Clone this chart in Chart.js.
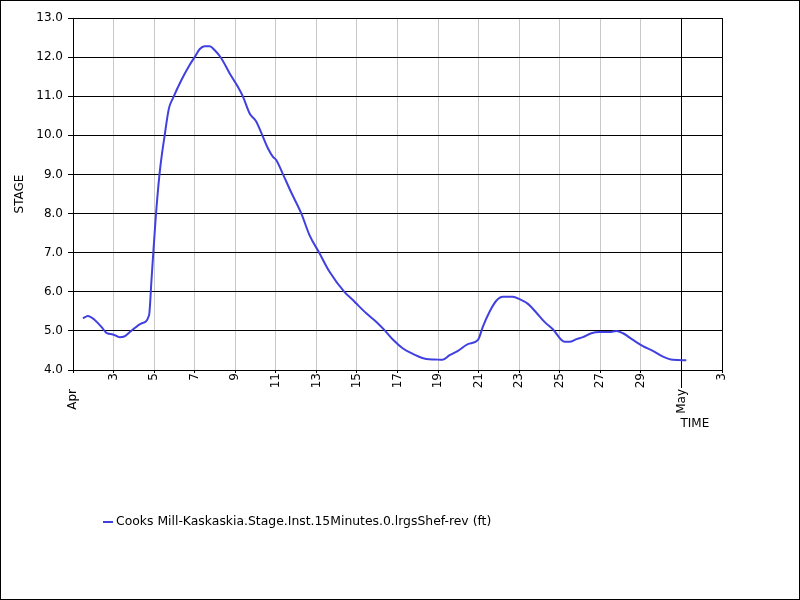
<!DOCTYPE html>
<html>
<head>
<meta charset="utf-8">
<script src="https://cdn.jsdelivr.net/npm/chart.js@4"></script>
<style>
  body { margin: 0; background: #fff; }
  canvas { display: block; }
</style>
</head>
<body>
<canvas id="stageChart" width="800" height="600"></canvas>
<script>
// days since Apr 1 00:00
const dayOffsets = [
  0.49, 0.73, 1.07, 1.39, 1.67, 1.97, 2.30, 2.49, 2.87, 3.37, 3.75, 3.87,
  4.07, 4.27, 4.52, 4.73, 4.93, 5.34, 5.75, 6.00, 6.24, 6.49, 6.74, 6.98,
  7.31, 7.72, 8.13, 8.38, 8.71, 9.04, 9.28, 9.61, 9.86, 10.02, 10.35, 10.75,
  11.26, 11.66, 12.16, 12.65, 13.39, 13.80, 13.97, 14.46, 14.96, 15.36, 15.77, 16.27,
  16.76, 17.42, 17.83, 18.21, 18.57, 18.98, 19.47, 19.97, 20.21, 20.54, 20.87, 21.20,
  21.69, 22.02, 22.43, 22.84, 23.25, 23.66, 24.24, 24.49, 24.82, 25.14, 25.56, 25.97,
  26.46, 26.79, 27.12, 27.61, 28.10, 28.59, 29.09, 29.58, 30.24
];
const stageFt = [
  5.32, 5.38, 5.28, 5.11, 4.94, 4.91, 4.84, 4.85, 5.00, 5.19, 5.40, 6.30,
  7.84, 9.03, 10.00, 10.69, 10.95, 11.41, 11.80, 12.00, 12.20, 12.28, 12.28, 12.18,
  11.97, 11.59, 11.24, 10.99, 10.56, 10.35, 10.07, 9.67, 9.45, 9.37, 9.01, 8.55,
  8.00, 7.45, 6.98, 6.51, 5.99, 5.79, 5.70, 5.45, 5.23, 5.02, 4.78, 4.55,
  4.41, 4.28, 4.27, 4.26, 4.38, 4.49, 4.66, 4.77, 5.11, 5.49, 5.77, 5.87,
  5.87, 5.81, 5.69, 5.47, 5.23, 5.04, 4.72, 4.72, 4.79, 4.84, 4.94, 4.97,
  4.97, 5.00, 4.94, 4.77, 4.61, 4.49, 4.34, 4.26, 4.25
];
const seriesName = "Cooks Mill-Kaskaskia.Stage.Inst.15Minutes.0.lrgsShef-rev (ft)";

// x ticks every 2 days, Apr 1 .. May 3
const dayTicks = [0, 2, 4, 6, 8, 10, 12, 14, 16, 18, 20, 22, 24, 26, 28, 30, 32];
const dayLabels = ["", "3", "5", "7", "9", "11", "13", "15", "17", "19", "21", "23", "25", "27", "29", "", "3"];
const monthTicks = [0, 30];
const monthLabels = ["Apr", "May"];
const yTicks = [4, 5, 6, 7, 8, 9, 10, 11, 12, 13];

const lineColor = "rgb(64,64,224)";
const fontFamily = "'DejaVu Sans', Verdana, sans-serif";

Chart.defaults.font.family = fontFamily;
Chart.defaults.font.size = 12;
Chart.defaults.color = "#000";

const points = dayOffsets.map((d, i) => ({ x: d, y: stageFt[i] }));

// рамка, TIME, легенда
const extrasPlugin = {
  id: "extras",
  afterDraw(chart) {
    const ctx = chart.ctx;
    ctx.save();
    ctx.strokeStyle = "#000";
    ctx.lineWidth = 1;
    ctx.strokeRect(0.5, 0.5, chart.width - 1, chart.height - 1);

    ctx.fillStyle = "#000";
    ctx.font = "12px " + fontFamily;
    ctx.textBaseline = "middle";
    ctx.textAlign = "left";
    const mayX = chart.scales.x.getPixelForValue(30);
    ctx.fillText("TIME", mayX - 1, 424);

    // legend
    ctx.strokeStyle = lineColor;
    ctx.lineWidth = 2;
    ctx.beginPath();
    ctx.moveTo(103, 522);
    ctx.lineTo(113, 522);
    ctx.stroke();
    ctx.font = "12.4px " + fontFamily;
    ctx.fillText(chart.data.datasets[0].label, 116, 522);
    ctx.restore();
  }
};

new Chart(document.getElementById("stageChart"), {
  type: "line",
  data: {
    datasets: [{
      label: seriesName,
      data: points,
      borderColor: lineColor,
      backgroundColor: lineColor,
      borderWidth: 2,
      pointRadius: 0,
      cubicInterpolationMode: "monotone",
      fill: false
    }]
  },
  options: {
    responsive: false,
    animation: false,
    layout: { padding: { top: 18, right: 78, left: 0, bottom: 0 } },
    plugins: {
      legend: { display: false },
      tooltip: { enabled: false }
    },
    scales: {
      x: {
        type: "linear",
        position: "bottom",
        weight: 0,
        min: 0,
        max: 32,
        afterBuildTicks: s => { s.ticks = dayTicks.map(v => ({ value: v })); },
        afterFit: s => { s.height = 18; },
        ticks: {
          autoSkip: false,
          minRotation: 90,
          maxRotation: 90,
          padding: 0,
          callback: (v, i) => dayLabels[i]
        },
        grid: {
          color: c => (c.tick && (c.tick.value === 30 || c.tick.value === 32)) ? "#000" : "#c8c8c8",
          tickColor: "#000",
          tickLength: 3
        },
        border: { color: "#000" }
      },
      month: {
        type: "linear",
        position: "bottom",
        weight: 10,
        min: 0,
        max: 32,
        afterBuildTicks: s => { s.ticks = monthTicks.map(v => ({ value: v })); },
        afterFit: s => { s.height = 600 - 388; },
        ticks: {
          autoSkip: false,
          minRotation: 90,
          maxRotation: 90,
          padding: 19,
          callback: (v, i) => monthLabels[i]
        },
        grid: {
          drawOnChartArea: false,
          // negative length: the May tick reaches back up to the plot
          tickColor: c => (c.tick && c.tick.value === 30) ? "#000" : "rgba(0,0,0,0)",
          tickLength: -18
        },
        border: { display: false }
      },
      y: {
        min: 4,
        max: 13,
        afterBuildTicks: s => { s.ticks = yTicks.map(v => ({ value: v })); },
        afterFit: s => { s.width = 73; },
        ticks: {
          padding: 5,
          callback: v => v.toFixed(1)
        },
        grid: { color: "#000", tickLength: 5 },
        border: { color: "#000" },
        title: {
          display: true,
          text: "STAGE",
          padding: { top: 13, bottom: 0 }
        }
      }
    }
  },
  plugins: [extrasPlugin]
});
</script>
</body>
</html>
